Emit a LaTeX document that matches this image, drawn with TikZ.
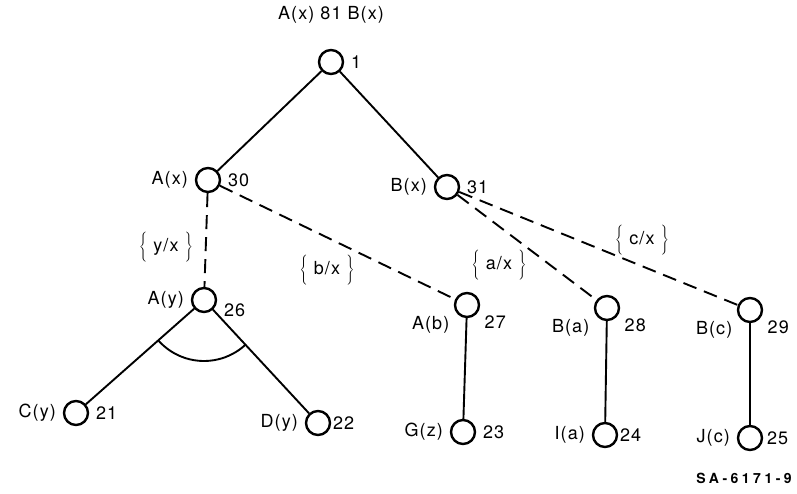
\documentclass[tikz,border=0pt]{standalone}
\usepackage{fontspec}
\setmainfont{TeX Gyre Heros}[LetterSpace=6]
\tikzset{%
  vertex/.style = {circle, draw, line width=2.4pt, inner sep=0pt,%
                   minimum size=24pt},%
  unif/.style   = {dash pattern=on 14pt off 8pt},%
  subst/.style  = {inner sep=0pt}%
}
\newcommand{\lbr}{$\left\{\vrule height 17pt depth 11pt width 0pt\right.$}
\newcommand{\rbr}{$\left.\vrule height 17pt depth 11pt width 0pt\right\}$}

\begin{document}
\begin{tikzpicture}[x=1pt,y=-1pt,line width=1.9pt,
	every node/.style = {font=\fontsize{18}{20}\selectfont},
	every label/.style = {inner sep=1pt}, label distance=5pt]
	\useasboundingbox (0,0) rectangle (797,494);
	% goal and its two conjuncts
	\node (goal) at (331,15) {A(x) 81 B(x)};
	\node [vertex, label=right:1] (n1) at (331,62) {};
	\node [vertex, label=left:A(x), label=right:30] (n30) at (208,180) {};
	\node [vertex, label=left:B(x), label=right:31] (n31) at (447,187) {};
	% resolvents
	\node [vertex, label=left:A(y), label={-5:26}] (n26) at (204,300) {};
	\node [vertex, label={-150:A(b)}, label={-30:27}] (n27) at (467,305) {};
	\node [vertex, label={-150:B(a)}, label={-30:28}] (n28) at (607,308) {};
	\node [vertex, label={-150:B(c)}, label={-30:29}] (n29) at (750,310) {};
	% leaves
	\node [vertex, label=left:C(y), label=right:21] (n21) at (76,413) {};
	\node [vertex, label=left:D(y), label={[label distance=0pt]right:22}] (n22) at (318,423) {};
	\node [vertex, label=left:G(z), label=right:23] (n23) at (463,432) {};
	\node [vertex, label=left:I(a), label={[label distance=0pt]right:24}] (n24) at (605,435) {};
	\node [vertex, label=left:J(c), label={[label distance=2pt]right:25}] (n25) at (750,438) {};
	% edges
	\draw (n1) -- (n30);
	\draw (n1) -- (n31);
	\draw [unif] (n30) -- (n26);
	\draw [unif] (n30) -- (n27);
	\draw [unif] (n31) -- (n28);
	\draw [unif] (n31) -- (n29);
	\draw (n26) -- (n21);
	\draw (n26) -- (n22);
	\draw (n27) -- (n23);
	\draw (n28) -- (n24);
	\draw (n29) -- (n25);
	\draw ([shift={(47:61)}]n26.center) arc[start angle=47, end angle=139, radius=61];
	% substitutions
	\node [subst] (yx) at (166,247) {\lbr\;y/x\;\rbr};
	\node [subst] (bx) at (327,270) {\lbr\;b/x\;\rbr};
	\node [subst] (ax) at (499,265) {\lbr\;a/x\;\rbr};
	\node [subst] (cx) at (642,240) {\lbr\;c/x\;\rbr};
	\node [font=\fontsize{14}{16}\bfseries\addfontfeatures{LetterSpace=25}] (fig) at (744,478) {SA-6171-9};
\end{tikzpicture}
\end{document}
